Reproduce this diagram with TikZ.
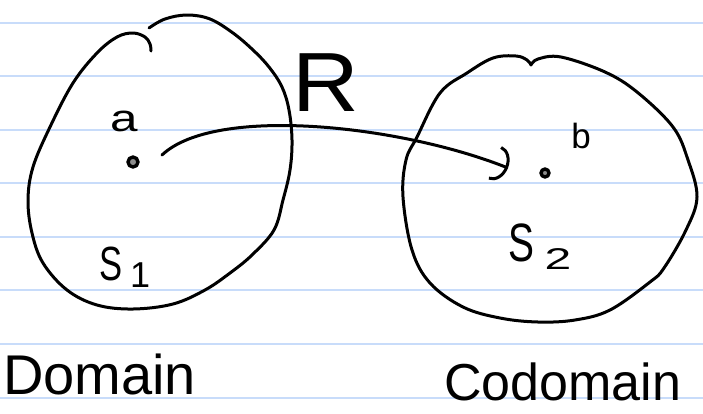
\documentclass[tikz,border=0pt]{standalone}
\usepackage{fontspec}
\setmainfont{Liberation Sans}
\usepackage{graphicx}
\usetikzlibrary{arrows.meta}
\definecolor{ruleblue}{RGB}{200,220,250}
\begin{document}
\begin{tikzpicture}[x=1pt,y=-1pt,line cap=round,line join=round,
  ink/.style={draw=black,line width=3pt},
  ruleline/.style={draw=ruleblue,line width=2pt},
  dotnode/.style={circle,draw=black,line width=3.4pt,fill=black!45,inner sep=0pt},
  lbl/.style={inner sep=0pt,outer sep=0pt,text=black},
  relarrow/.style={ink,-{Arc Barb[length=14pt,width=36pt,line width=3pt]}}]
\useasboundingbox (0,0) rectangle (703,413);
\fill[white] (0,0) rectangle (703,413);
% ruled paper
\foreach \k in {0,...,7} \draw[ruleline] (0,{22.7+53.55*\k}) -- (703,{22.7+53.55*\k});
% domain set S1
\draw[ink] plot[smooth,tension=0.6] coordinates {
  (149,28) (165,19) (187,15) (210,19) (233,33) (253,50) (269,67) (282,87)
  (289,110) (292,140) (290,170) (283,200) (274,230) (252,255) (230,273)
  (205,290) (173,304) (133,309) (97,305) (67,290) (43,263) (32,233) (28,200)
  (33,167) (50,127) (73,83) (97,53) (117,37) (133,33) (145,37) (150,44) (151,51)};
% codomain set S2
\draw[ink] plot[smooth,tension=0.6] coordinates {
  (531,65) (538,59) (561,57) (605,72) (637,92) (673,127) (688,160) (697,197)
  (686,230) (664,268) (650,282) (610,310) (575,320) (538,322) (500,318)
  (463,307) (430,283) (412,250) (403,197) (406,160) (417,137) (440,93)
  (467,73) (493,58) (516,56) (527,60) (531,65)};
% elements
\node[dotnode,minimum size=10pt] (dota) at (133,162) {};
\node[dotnode,minimum size=8pt] (dotb) at (545,173) {};
% labels
\node[lbl] (lbla) at (124,121) {\scalebox{1.3}[1]{\fontsize{38}{40}\selectfont a}};
\node[lbl] (lblb) at (581,136) {\fontsize{35}{37}\selectfont b};
\node[lbl] (lblR) at (326,83) {\scalebox{1.1}[1]{\fontsize{84}{86}\selectfont R}};
\node[lbl] (lbls1) at (125,267) {\scalebox{0.72}[1]{\fontsize{48}{50}\selectfont S}\hspace{7pt}\raisebox{-7pt}{\fontsize{36}{38}\selectfont 1}};
\node[lbl] (lbls2) at (540,247) {\scalebox{0.72}[1]{\fontsize{54}{56}\selectfont S}\hspace{10pt}\raisebox{-8pt}{\scalebox{1.6}[1]{\fontsize{30}{32}\selectfont 2}}};
\node[lbl,anchor=base west] (domain) at (3,394) {\fontsize{56}{60}\selectfont Domain};
\node[lbl,anchor=base west] (codomain) at (444,400) {\fontsize{52}{56}\selectfont Codomain};
% relation R
\coordinate (arrS) at (162,155);
\coordinate (arrE) at (508,168);
\draw[relarrow] (arrS) .. controls (215,105) and (400,125) .. (arrE);
\end{tikzpicture}
\end{document}
